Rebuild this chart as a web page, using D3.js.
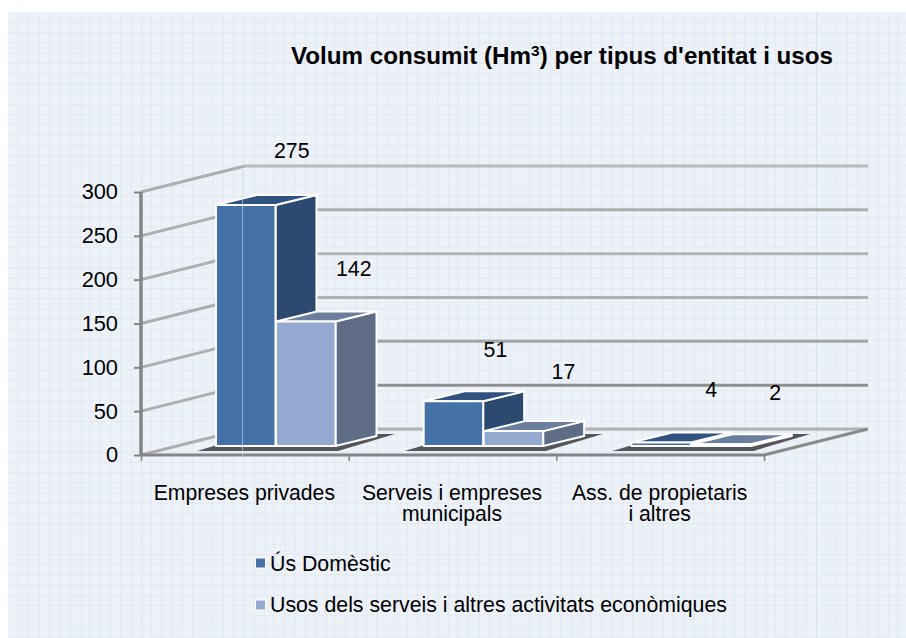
<!DOCTYPE html>
<html>
<head>
<meta charset="utf-8">
<script src="https://cdn.jsdelivr.net/npm/d3@7"></script>
<style>
html,body{margin:0;padding:0;background:#fff;}
svg{display:block;}
text{font-family:"Liberation Sans",Arial,sans-serif;fill:#000;}
</style>
</head>
<body>
<svg id="c" width="906" height="638"></svg>
<script>
const categories = [["Empreses privades"], ["Serveis i empreses", "municipals"], ["Ass. de propietaris", "i altres"]];
const seriesNames = ["Ús Domèstic", "Usos dels serveis i altres activitats econòmiques"];
const domestic = [275, 51, 4];
const services = [142, 17, 2];
const yTicks = [0, 50, 100, 150, 200, 250, 300];
const frontColors = ["#4471a8", "#95a9d0"];
const sideColors = ["#2c4a70", "#5e6c86"];
const topColors = ["#2f5280", "#6c7e9d"];
const labelNudges = [[[-1, -1], [1, 0]], [[-5, 2], [3, -6]], [[3, 1], [7, 2]]];
const wallGreys = ["#b0b0b0", "#8f8f8f", "#a4a4a4", "#b0b0b0", "#b4b4b4", "#adadad", "#b9b9b9"];

const svg = d3.select("#c");
const W = 906, H = 638;

// paper
const left = 8, top0 = 12, step = 10.23;
svg.append("rect").attr("x", left).attr("y", top0).attr("width", W - left).attr("height", H - top0).attr("fill", "#edf2f8");
const paper = svg.append("g").attr("stroke", "#e2e9f3").attr("stroke-width", 1);
paper.selectAll("line.v").data(d3.range(18.7, W, step)).join("line").attr("class", "v")
  .attr("x1", d => d).attr("x2", d => d).attr("y1", top0).attr("y2", H);
paper.selectAll("line.h").data(d3.range(22.5, H, step)).join("line").attr("class", "h")
  .attr("x1", left).attr("x2", W).attr("y1", d => d).attr("y2", d => d);
paper.append("line").attr("x1", 816.5).attr("x2", 816.5).attr("y1", top0).attr("y2", H).attr("stroke", "#d9e3ef");

// scales
const y = d3.scaleLinear().domain([0, 300]).range([455, 192]);
const idx = categories.map((_, i) => i);
const x = d3.scaleBand().domain(idx).range([141, 764]);
const depth = { dx: 104, dy: -26 };      // wall depth
const barD = { dx: 41, dy: -10 };        // bar depth
const barWidth = 59.5, groupShift = 75, floorUp = 9;
const sx = d3.scaleBand().domain([0, 1]).range([groupShift, groupShift + 2 * barWidth + 1]);

// title
const title = svg.append("text").attr("x", 291).attr("y", 64).attr("font-weight", "bold").attr("font-size", 24.2);
title.append("tspan").text("Volum consumit (Hm");
title.append("tspan").attr("font-size", 15.5).attr("dy", -8).text("3");
title.append("tspan").attr("dy", 8).text(") per tipus d'entitat i usos");

// walls
const wall = svg.append("g");
wall.selectAll("line.back").data(yTicks).join("line").attr("class", "back")
  .attr("x1", depth.dx + 141).attr("x2", 868)
  .attr("y1", d => y(d) + depth.dy).attr("y2", d => y(d) + depth.dy)
  .attr("stroke", (d, i) => wallGreys[i]).attr("stroke-width", 3);
wall.selectAll("line.side").data(yTicks).join("line").attr("class", "side")
  .attr("x1", 141).attr("x2", 141 + depth.dx)
  .attr("y1", d => y(d)).attr("y2", d => y(d) + depth.dy)
  .attr("stroke", "#aeaeae").attr("stroke-width", 3);
wall.append("line").attr("x1", 764).attr("x2", 868)
  .attr("y1", y(0)).attr("y2", y(0) + depth.dy).attr("stroke", "#8a8a8a").attr("stroke-width", 3);

// axes
const yAxis = d3.axisLeft(y).tickValues(yTicks).tickSize(7).tickPadding(15);
const gy = svg.append("g").attr("transform", "translate(141,0)").call(yAxis);
gy.select(".domain").attr("stroke", "#858585").attr("stroke-width", 3.5).attr("d", `M0,${y(300)}V${y(0)}`);
gy.selectAll(".tick line").attr("stroke", "#858585").attr("stroke-width", 2);
gy.selectAll(".tick text").attr("x", -23).attr("font-size", 21.8).attr("font-family", '"Liberation Sans",Arial,sans-serif').attr("fill", "#000");

const xEdge = d3.scaleLinear().domain([0, 3]).range([141, 764]);
const xAxis = d3.axisBottom(xEdge).tickValues([0, 1, 2, 3]).tickSize(6).tickFormat("");
const gx = svg.append("g").attr("transform", `translate(0,${y(0)})`).call(xAxis);
gx.select(".domain").attr("stroke", "#858585").attr("stroke-width", 3).attr("d", "M141,0H764");
gx.selectAll(".tick line").attr("stroke", "#858585").attr("stroke-width", 1.5);

// shadows
const defs = svg.append("defs");
defs.append("filter").attr("id", "soft").append("feGaussianBlur").attr("stdDeviation", 0.7);
const base = y(0) - floorUp;
svg.append("g").selectAll("path").data(idx).join("path")
  .attr("filter", "url(#soft)").attr("fill", "#55555b")
  .attr("d", i => {
    const l = x(i) + groupShift;
    return `M${l - 19},${base + 5}L${l + 122},${base + 5}L${l + 179},${base - 12}L${l + 38},${base - 12}Z`;
  });

// bars
const seriesValues = [domestic, services];
const bars = [];
seriesValues.forEach((vals, s) => vals.forEach((v, i) => bars.push({ s, i, v })));
const h = v => y(0) - y(v);
const barG = svg.append("g").selectAll("g").data(bars).join("g")
  .attr("stroke", "#fff").attr("stroke-width", 2).attr("stroke-linejoin", "round");
const bx = d => x(d.i) + sx(d.s);
barG.append("path").attr("fill", d => sideColors[d.s]).attr("d", d => {
  const r = bx(d) + barWidth, t = base - h(d.v);
  return `M${r},${base}L${r + barD.dx},${base + barD.dy}L${r + barD.dx},${t + barD.dy}L${r},${t}Z`;
});
barG.append("path").attr("fill", d => topColors[d.s]).attr("d", d => {
  const l = bx(d), t = base - h(d.v);
  return `M${l},${t}L${l + barD.dx},${t + barD.dy}L${l + barWidth + barD.dx},${t + barD.dy}L${l + barWidth},${t}Z`;
});
barG.append("rect").attr("fill", d => frontColors[d.s])
  .attr("x", bx).attr("y", d => base - h(d.v)).attr("width", barWidth).attr("height", d => h(d.v));

// seam over the first column
svg.append("line").attr("x1", 242.5).attr("x2", 242.5).attr("y1", 168).attr("y2", 460)
  .attr("stroke", "#cfdbe9").attr("stroke-opacity", 0.6);

// value labels
svg.append("g").attr("font-size", 21.3).attr("text-anchor", "middle").selectAll("text").data(bars).join("text")
  .attr("x", d => bx(d) + barWidth / 2 + 47 + labelNudges[d.i][d.s][0])
  .attr("y", d => base - h(d.v) - 46 + labelNudges[d.i][d.s][1])
  .text(d => d.v);

// category labels
const catG = svg.append("g").attr("font-size", 21.2).attr("text-anchor", "middle");
categories.forEach((lines, i) => {
  lines.forEach((line, k) => {
    catG.append("text").attr("x", x(i) + x.bandwidth() / 2 - 0.5).attr("y", 500 + k * 21).text(line);
  });
});

// legend
const lg = svg.append("g").selectAll("g").data(seriesNames).join("g");
lg.append("rect").attr("x", 255.5).attr("y", (d, i) => 558 + i * 42).attr("width", 10).attr("height", 10)
  .attr("fill", (d, i) => frontColors[i]).attr("stroke", "#fff").attr("stroke-width", 1);
lg.append("text").attr("x", 270).attr("y", (d, i) => 571 + i * 41).attr("font-size", 21.3).text(d => d);
</script>
</body>
</html>
